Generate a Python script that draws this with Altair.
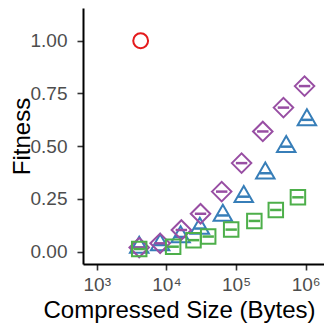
import altair as alt
import pandas as pd

# Data (x = compressed size in bytes, y = fitness)
red_x = [4270]
red_y = [1.00]

purple_x = [4070, 8130, 16400, 30900, 62200, 120000, 242000, 479000, 962000]
purple_y = [0.020, 0.040, 0.103, 0.180, 0.285, 0.420, 0.570, 0.683, 0.785]

blue_x = [4070, 8130, 16000, 30200, 64600, 129000, 263000, 525000, 1040000]
blue_y = [0.020, 0.032, 0.070, 0.110, 0.172, 0.261, 0.372, 0.498, 0.625]

green_x = [4070, 12500, 24500, 39800, 85100, 183000, 372000, 773000]
green_y = [0.013, 0.024, 0.055, 0.072, 0.105, 0.146, 0.198, 0.258]

x_ticks = [1000, 10000, 100000, 1000000]
y_ticks = [0.0, 0.25, 0.5, 0.75, 1.0]

def frame(xs, ys):
    return pd.DataFrame({"x": xs, "y": ys})

xscale = alt.Scale(type="log", domain=[635, 1830000], nice=False)
yscale = alt.Scale(domain=[-0.058, 1.155], nice=False, zero=False)

X = alt.X("x:Q", scale=xscale, axis=alt.Axis(
    values=x_ticks,
    labelExpr="datum.value == 1000 ? '10³' : datum.value == 10000 ? '10⁴' : datum.value == 100000 ? '10⁵' : '10⁶'",
    title="Compressed Size (Bytes)",
    titleX=96, titleY=53, titleAlign="center", titleBaseline="alphabetic",
    labelPadding=5,
))
Y = alt.Y("y:Q", scale=yscale, axis=alt.Axis(
    values=y_ticks, format=".2f", title="Fitness",
    titleX=-54, titleY=128, titleAngle=270, titleAlign="center", titleBaseline="alphabetic",
    labelPadding=10,
))

def pts(xs, ys, shape, color, size, yoff=0):
    return alt.Chart(frame(xs, ys)).mark_point(
        shape=shape, filled=False, color=color, strokeWidth=2, size=size, yOffset=yoff, opacity=1
    ).encode(x=X, y=Y)

def dash(xs, ys, color):
    return alt.Chart(frame(xs, ys)).mark_point(
        shape="M-1,0L1,0", filled=False, color=color, strokeWidth=2.5, size=130, opacity=1
    ).encode(x=X, y=Y)

layers = [
    pts(red_x, red_y, "circle", "#E41A1C", 220),
    pts(blue_x, blue_y, "triangle-up", "#377EB8", 340, -2.7),
    dash(blue_x, blue_y, "#377EB8"),
    pts(purple_x, purple_y, "diamond", "#984EA3", 380),
    dash(purple_x, purple_y, "#984EA3"),
    pts(green_x, green_y, "square", "#4DAF4A", 210),
    dash(green_x, green_y, "#4DAF4A"),
]

chart = alt.layer(*layers).properties(
    width=241, height=256,
    autosize=alt.AutoSizeParams(type="none"),
    padding={"left": 75, "top": 0, "right": 0, "bottom": 60},
).configure_view(stroke=None).configure_axis(
    grid=False,
    domainColor="black", domainWidth=2,
    tickColor="#333333", tickWidth=1.6, tickSize=6,
    labelFont="Liberation Sans", labelFontSize=19, labelColor="#4D4D4D",
    titleFont="Liberation Sans", titleFontSize=24, titleColor="black", titleFontWeight="normal",
)

chart.save("out.html", embed_options={"renderer": "svg", "actions": False})
